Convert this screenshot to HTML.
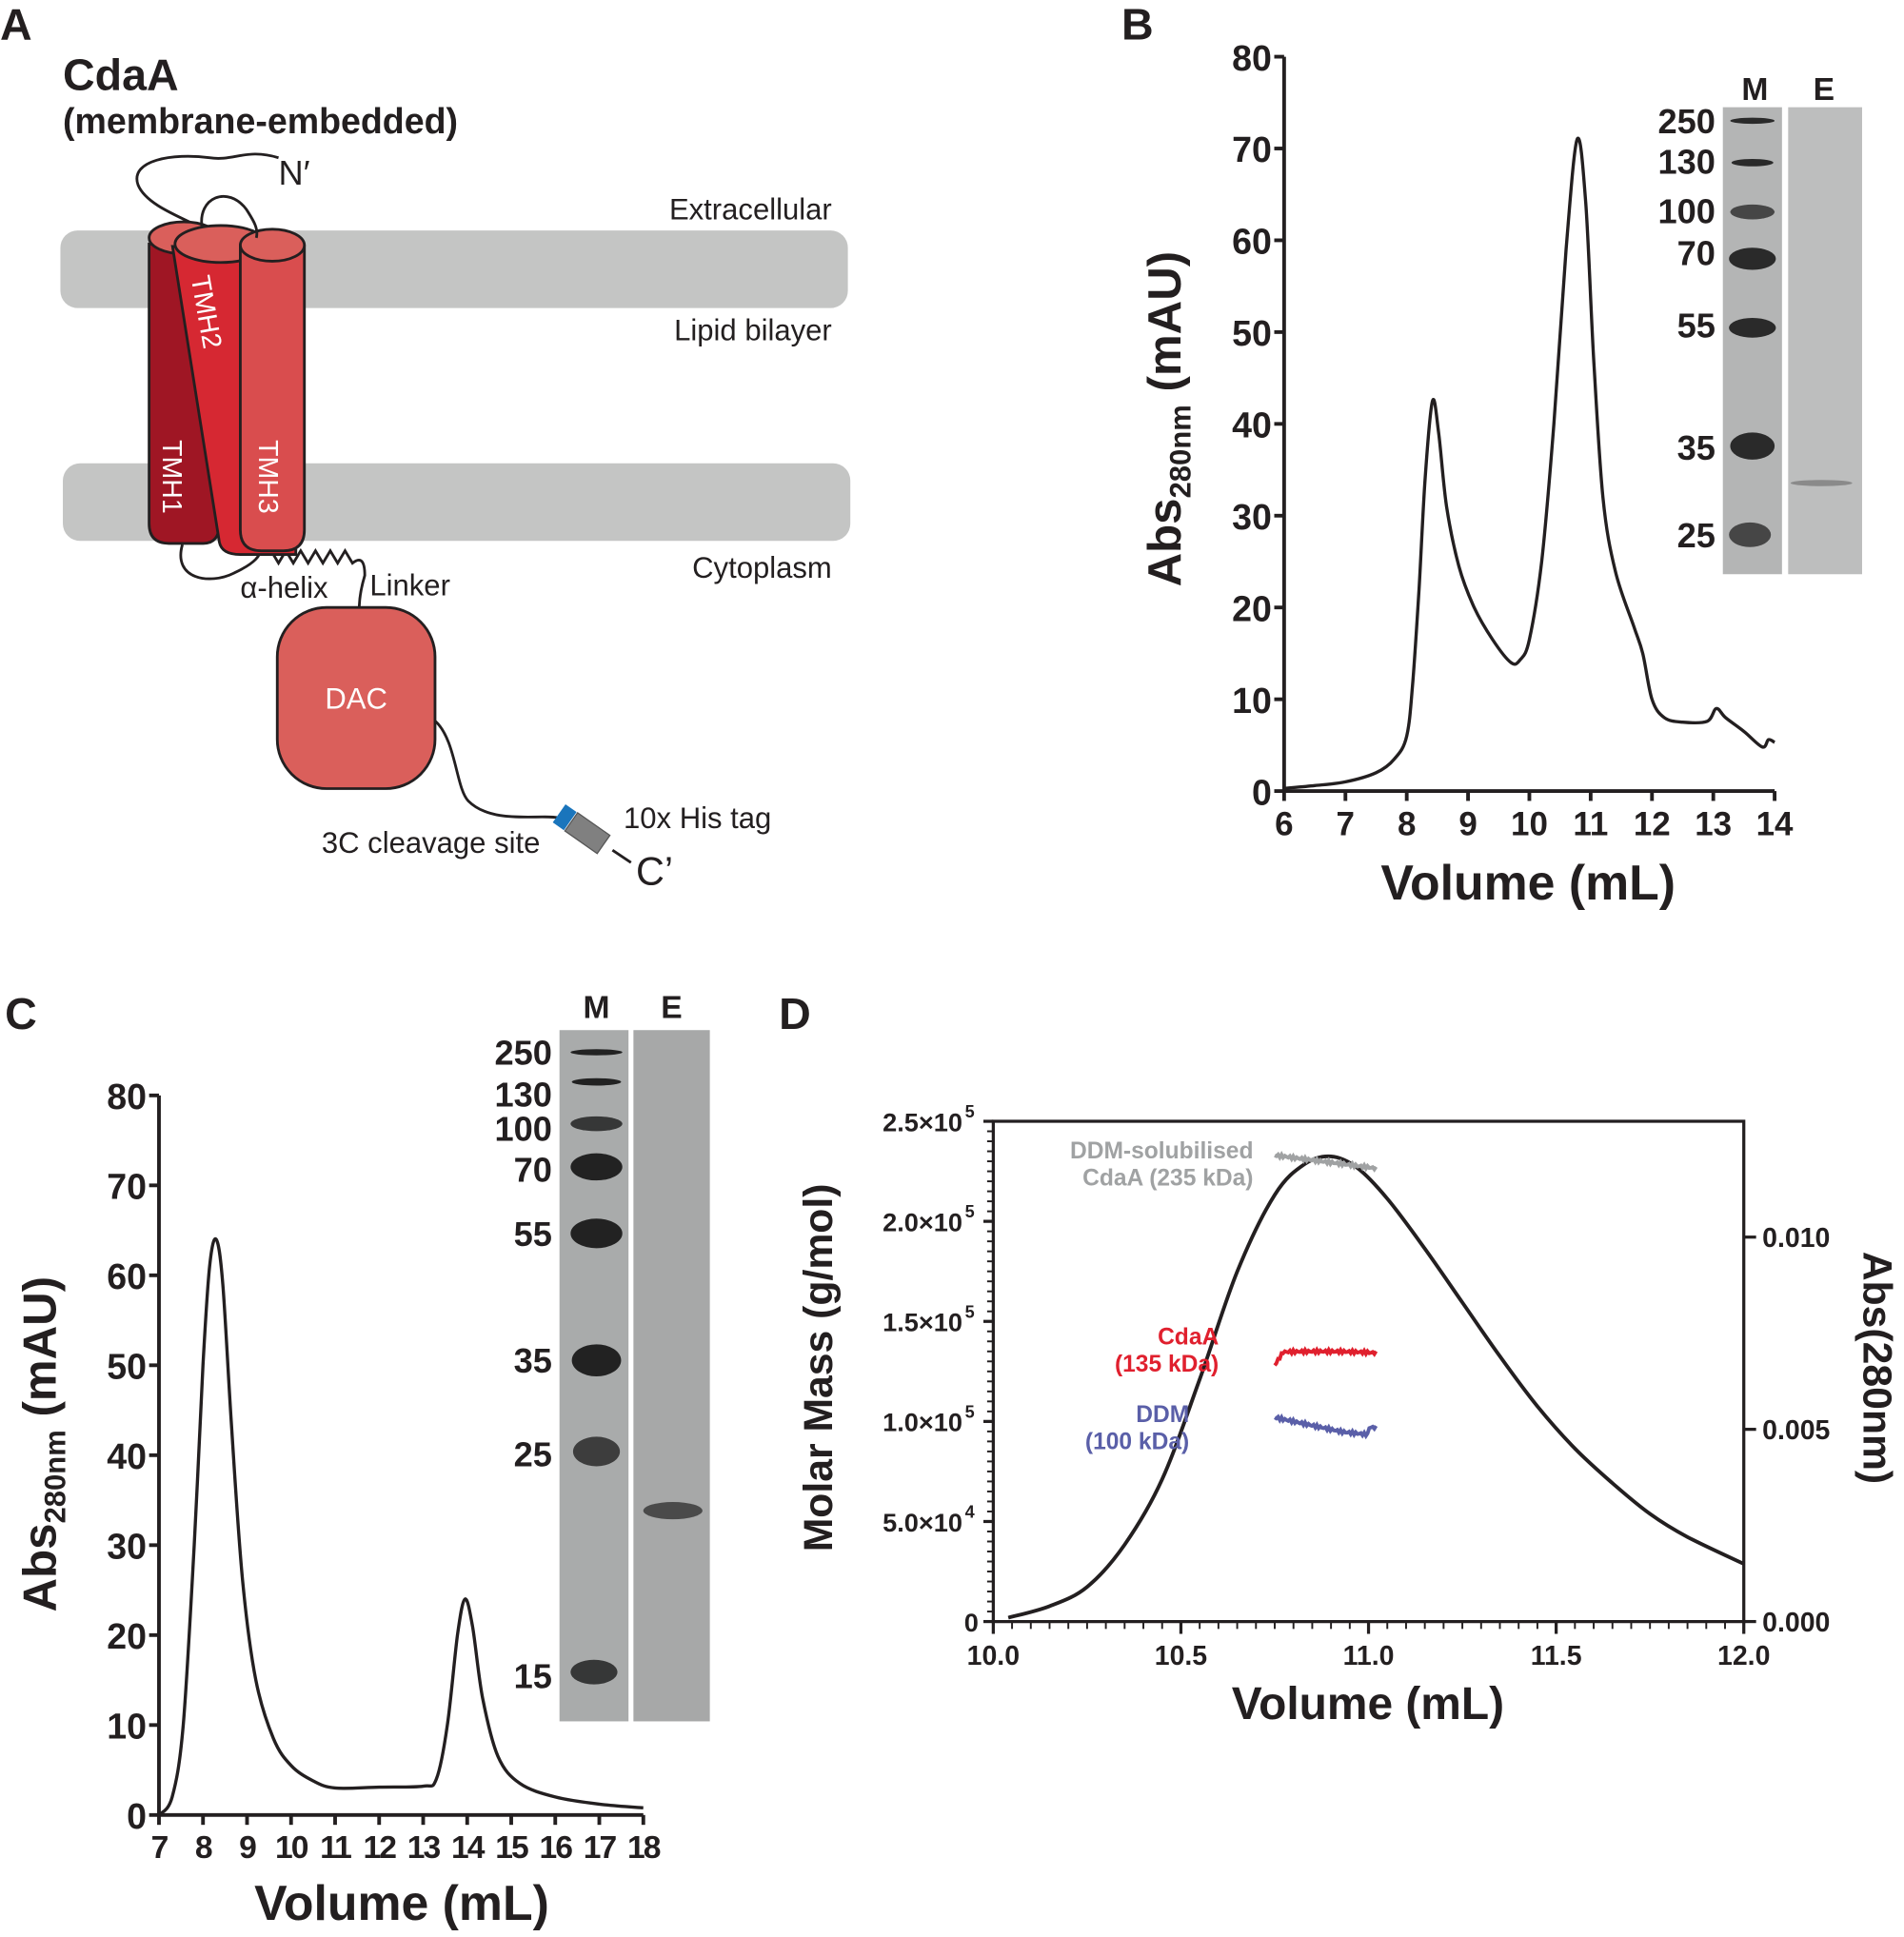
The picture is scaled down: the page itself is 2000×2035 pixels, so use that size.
<!DOCTYPE html>
<html><head><meta charset="utf-8">
<style>
html,body{margin:0;padding:0;background:#fff;}
svg{display:block;}
text{font-family:"Liberation Sans",Arial,sans-serif;}
.b{font-weight:bold;fill:#231f20;}
</style></head>
<body>
<svg id="s" width="2000" height="2035" viewBox="0 0 1545 1572" xmlns="http://www.w3.org/2000/svg">
<rect width="1545" height="1572" fill="#fff"/>
<text x="0" y="32" class="b" font-size="36">A</text>
<text x="910" y="32" class="b" font-size="36">B</text>
<text x="4" y="835" class="b" font-size="36">C</text>
<text x="632" y="835" class="b" font-size="36">D</text>

<!-- ===== Panel A ===== -->
<text x="51" y="73" class="b" font-size="36">CdaA</text>
<text x="51" y="108" class="b" font-size="29">(membrane-embedded)</text>
<rect x="49" y="187" width="639" height="63" rx="14" fill="#c4c5c4"/>
<rect x="51" y="376" width="639" height="63" rx="14" fill="#c4c5c4"/>
<g font-size="24" fill="#231f20">
<text x="675" y="178" text-anchor="end">Extracellular</text>
<text x="675" y="276" text-anchor="end">Lipid bilayer</text>
<text x="675" y="469" text-anchor="end">Cytoplasm</text>
<text x="195" y="485">α-helix</text>
<text x="300" y="483">Linker</text>
<text x="261" y="692">3C cleavage site</text>
<text x="506" y="672">10x His tag</text>
<text x="226" y="150" font-size="28">N′</text>
<text x="516" y="718" font-size="32">C’</text>
</g>
<g fill="none" stroke="#231f20" stroke-width="2.2">
<path d="M178,193 C160,180 120,170 112,150 C105,130 140,124 170,128 C190,131 200,120 226,128"/>
<path d="M148,442 C140,470 170,475 190,465 C205,458 215,450 210,442"/>
<path d="M220,447 l6,10 l6,-10 l6,10 l6,-10 l6,10 l6,-10 l6,10 l6,-10 l6,10 l6,-10 l6,10 q10,-8 10,10 q-6,20 -4,35"/>
<path d="M353,585 C370,600 370,640 380,650 C400,670 440,660 455,664"/>
</g>
<path d="M121,198 L121,425 Q121,441 137,441 L165,441 Q178,441 178,425 L160,200 Z" fill="#9f1624" stroke="#231f20" stroke-width="2.2"/>
<ellipse cx="149" cy="193" rx="28" ry="13" fill="#da5f5b" stroke="#231f20" stroke-width="2.2"/>
<path d="M140,200 L178,440 Q180,450 195,450 L240,450 L245,205 Z" fill="#d62832" stroke="#231f20" stroke-width="2.2"/>
<ellipse cx="179" cy="198" rx="37" ry="15" fill="#da5f5b" stroke="#231f20" stroke-width="2.2"/>
<path d="M195,200 L195,430 Q195,447 212,447 L230,447 Q247,447 247,430 L247,200 Z" fill="#d94d4e" stroke="#231f20" stroke-width="2.2"/>
<ellipse cx="221" cy="199" rx="26" ry="13" fill="#da5f5b" stroke="#231f20" stroke-width="2.2"/>
<path d="M164,185 C160,160 185,150 200,170 C205,178 210,185 208,193" fill="none" stroke="#231f20" stroke-width="2.2"/>
<g fill="#fff" font-size="22">
<text transform="translate(155,225) rotate(80)">TMH2</text>
<text transform="translate(132,357) rotate(90)">TMH1</text>
<text transform="translate(210,357) rotate(90)">TMH3</text>
</g>
<rect x="225" y="493" width="128" height="147" rx="40" fill="#da5f5b" stroke="#231f20" stroke-width="2.2"/>
<text x="289" y="575" fill="#fff" font-size="24" text-anchor="middle">DAC</text>
<g transform="translate(475,675) rotate(35)">
<rect x="-14" y="-9" width="32" height="18" fill="#808080" stroke="#555" stroke-width="1"/>
<rect x="-26" y="-9" width="11" height="18" fill="#1a75bc"/>
</g>
<line x1="497" y1="690" x2="512" y2="700" stroke="#231f20" stroke-width="2.2"/>

<!-- ===== Panel B ===== -->
<g id="axB"></g>
<rect x="1398" y="87" width="48" height="379" fill="#b4b5b5"/>
<rect x="1451" y="87" width="60" height="379" fill="#bdbebe"/>
<g fill="#2a2a2a">
<ellipse cx="1422" cy="98" rx="18" ry="2.5"/>
<ellipse cx="1422" cy="132" rx="17" ry="3"/>
<ellipse cx="1422" cy="172" rx="18" ry="6" opacity="0.8"/>
<ellipse cx="1422" cy="210" rx="19" ry="9"/>
<ellipse cx="1422" cy="266" rx="19" ry="8"/>
<ellipse cx="1422" cy="362" rx="18" ry="11"/>
<ellipse cx="1420" cy="434" rx="17" ry="10" opacity="0.8"/>
<ellipse cx="1478" cy="392" rx="25" ry="2.5" opacity="0.35"/>
</g>
<g class="b" font-size="28" text-anchor="end">
<text x="1392" y="108">250</text><text x="1392" y="141">130</text><text x="1392" y="181">100</text>
<text x="1392" y="215">70</text><text x="1392" y="274">55</text><text x="1392" y="373">35</text><text x="1392" y="444">25</text>
</g>
<text x="1424" y="81" class="b" font-size="26" text-anchor="middle">M</text>
<text x="1480" y="81" class="b" font-size="26" text-anchor="middle">E</text>

<!-- ===== Panel C ===== -->
<g id="axC"></g>
<rect x="454" y="836" width="56" height="561" fill="#a9abab"/>
<rect x="514" y="836" width="62" height="561" fill="#a7a8a8"/>
<g fill="#222">
<ellipse cx="484" cy="854" rx="21" ry="2.5"/>
<ellipse cx="484" cy="878" rx="20" ry="3"/>
<ellipse cx="484" cy="912" rx="21" ry="6" opacity="0.85"/>
<ellipse cx="484" cy="947" rx="21" ry="11"/>
<ellipse cx="484" cy="1001" rx="21" ry="12"/>
<ellipse cx="484" cy="1104" rx="20" ry="13"/>
<ellipse cx="484" cy="1178" rx="19" ry="12" opacity="0.8"/>
<ellipse cx="482" cy="1357" rx="19" ry="10" opacity="0.85"/>
<ellipse cx="546" cy="1226" rx="24" ry="7" opacity="0.7"/>
</g>
<g class="b" font-size="28" text-anchor="end">
<text x="448" y="864">250</text><text x="448" y="898">130</text><text x="448" y="926">100</text>
<text x="448" y="959">70</text><text x="448" y="1011">55</text><text x="448" y="1114">35</text><text x="448" y="1190">25</text><text x="448" y="1370">15</text>
</g>
<text x="484" y="826" class="b" font-size="26" text-anchor="middle">M</text>
<text x="545" y="826" class="b" font-size="26" text-anchor="middle">E</text>

<!-- ===== Panel D ===== -->
<g id="axD"></g>
<text x="1017" y="940" font-size="19" font-weight="bold" fill="#a0a2a3" text-anchor="end">DDM-solubilised</text>
<text x="1017" y="962" font-size="19" font-weight="bold" fill="#a0a2a3" text-anchor="end">CdaA (235 kDa)</text>
<text x="989" y="1091" font-size="19" font-weight="bold" fill="#e0202e" text-anchor="end">CdaA</text>
<text x="989" y="1113" font-size="19" font-weight="bold" fill="#e0202e" text-anchor="end">(135 kDa)</text>
<text x="965" y="1154" font-size="19" font-weight="bold" fill="#5a5fa8" text-anchor="end">DDM</text>
<text x="965" y="1176" font-size="19" font-weight="bold" fill="#5a5fa8" text-anchor="end">(100 kDa)</text>
</svg>
<script>
const NS="http://www.w3.org/2000/svg";
function el(p,tag,a,txt){const e=document.createElementNS(NS,tag);for(const k in a)e.setAttribute(k,a[k]);if(txt!==undefined)e.textContent=txt;p.appendChild(e);return e;}
function smooth(pts){let d="M"+pts[0][0].toFixed(1)+","+pts[0][1].toFixed(1);
 for(let i=0;i<pts.length-1;i++){const p0=pts[Math.max(0,i-1)],p1=pts[i],p2=pts[i+1],p3=pts[Math.min(pts.length-1,i+2)];
 const c1=[p1[0]+(p2[0]-p0[0])/6,p1[1]+(p2[1]-p0[1])/6],c2=[p2[0]-(p3[0]-p1[0])/6,p2[1]-(p3[1]-p1[1])/6];
 d+=" C"+c1.map(v=>v.toFixed(1))+" "+c2.map(v=>v.toFixed(1))+" "+p2.map(v=>v.toFixed(1));}return d;}
(function(){const g=document.getElementById("axB");const X=v=>1042+(v-6)*49.75,Y=v=>642-v*7.45;
el(g,"path",{d:"M1042,46 V642 H1440",fill:"none",stroke:"#231f20","stroke-width":3});
for(let v=0;v<=80;v+=10){el(g,"line",{x1:1034,x2:1042,y1:Y(v),y2:Y(v),stroke:"#231f20","stroke-width":3});
el(g,"text",{x:1032,y:Y(v)+11,"text-anchor":"end",class:"b","font-size":29},v);}
for(let v=6;v<=14;v++){el(g,"line",{x1:X(v),x2:X(v),y1:642,y2:650,stroke:"#231f20","stroke-width":3});
el(g,"text",{x:X(v),y:678,"text-anchor":"middle",class:"b","font-size":27},v);}
el(g,"text",{x:1240,y:730,"text-anchor":"middle",class:"b","font-size":40},"Volume (mL)");
const t=el(g,"text",{transform:"translate(958,340) rotate(-90)","text-anchor":"middle",class:"b","font-size":38});
t.innerHTML='Abs<tspan font-size="24" dy="8">280nm</tspan><tspan dy="-8"> (mAU)</tspan>';
const d=[[6,0.3],[6.5,0.6],[7,1],[7.5,2],[7.8,3.5],[8,6],[8.1,12],[8.2,22],[8.3,34],[8.42,42.5],[8.52,39],[8.65,31],[8.85,24.5],[9.1,20],[9.4,16.5],[9.7,14],[9.85,14.3],[10,16.5],[10.2,25],[10.4,40],[10.6,59],[10.78,71],[10.92,64],[11.05,47],[11.2,32],[11.4,24],[11.7,18],[11.85,15],[12,10],[12.2,8],[12.5,7.5],[12.9,7.6],[13.05,9],[13.2,8],[13.5,6.5],[13.8,4.8],[13.9,5.6],[14,5.3]];
el(g,"path",{d:smooth(d.map(p=>[X(p[0]),Y(p[1])])),fill:"none",stroke:"#231f20","stroke-width":2.6});})();
(function(){const g=document.getElementById("axC");const X=v=>129+(v-7)*35.73,Y=v=>1473-v*7.3;
el(g,"path",{d:"M129,889 V1473 H522",fill:"none",stroke:"#231f20","stroke-width":3});
for(let v=0;v<=80;v+=10){el(g,"line",{x1:121,x2:129,y1:Y(v),y2:Y(v),stroke:"#231f20","stroke-width":3});
el(g,"text",{x:119,y:Y(v)+11,"text-anchor":"end",class:"b","font-size":29},v);}
for(let v=7;v<=18;v++){el(g,"line",{x1:X(v),x2:X(v),y1:1473,y2:1481,stroke:"#231f20","stroke-width":3});
el(g,"text",{x:X(v),y:1508,"text-anchor":"middle",class:"b","font-size":26,"letter-spacing":-1.5},v);}
el(g,"text",{x:326,y:1558,"text-anchor":"middle",class:"b","font-size":40},"Volume (mL)");
const t=el(g,"text",{transform:"translate(45,1172) rotate(-90)","text-anchor":"middle",class:"b","font-size":38});
t.innerHTML='Abs<tspan font-size="24" dy="8">280nm</tspan><tspan dy="-8"> (mAU)</tspan>';
const d=[[7,0],[7.3,2],[7.55,10],[7.8,30],[8.0,50],[8.15,61],[8.3,64],[8.45,59],[8.65,43],[8.9,26],[9.2,15],[9.6,8.5],[10,5.5],[10.5,3.8],[11,3],[12,3.1],[13,3.2],[13.3,4],[13.55,10],[13.78,20],[13.95,24],[14.12,21],[14.35,13],[14.7,6.5],[15.2,3.5],[16,2],[17,1.2],[18,0.8]];
el(g,"path",{d:smooth(d.map(p=>[X(p[0]),Y(p[1])])),fill:"none",stroke:"#231f20","stroke-width":2.6});})();
(function(){const g=document.getElementById("axD");const X=v=>806+(v-10)*304.5,Y=v=>1316-v*1.624e-3,YR=v=>1316-v*31200;
el(g,"path",{d:"M806,1316 V910 H1415 V1316 Z",fill:"none",stroke:"#231f20","stroke-width":2.5});
for(let i=0;i<=50;i++){const v=i*5000;const maj=i%10==0;el(g,"line",{x1:maj?798:801,x2:806,y1:Y(v),y2:Y(v),stroke:"#231f20","stroke-width":maj?2.5:1.5});}
const labs=["0","5.0×10","1.0×10","1.5×10","2.0×10","2.5×10"];
labs.forEach((l,i)=>{const t=el(g,"text",{x:i?781:794,y:Y(i*50000)+8,"text-anchor":"end",class:"b","font-size":21});
t.textContent=l;if(i){el(g,"text",{x:783,y:Y(i*50000)-3,class:"b","font-size":14},i==1?"4":"5");}});
for(let i=0;i<=40;i++){const v=10+i*0.05;const maj=i%10==0;el(g,"line",{x1:X(v),x2:X(v),y1:1316,y2:maj?1326:1322,stroke:"#231f20","stroke-width":maj?2.5:1.5});}
for(let v=0;v<=4;v++){el(g,"text",{x:X(10+v*0.5),y:1351,"text-anchor":"middle",class:"b","font-size":22},(10+v*0.5).toFixed(1));}
[[0,"0.000"],[0.005,"0.005"],[0.010,"0.010"]].forEach(p=>{el(g,"line",{x1:1415,x2:1425,y1:YR(p[0]),y2:YR(p[0]),stroke:"#231f20","stroke-width":2.5});
el(g,"text",{x:1430,y:YR(p[0])+8,class:"b","font-size":22},p[1]);});
el(g,"text",{x:1110,y:1395,"text-anchor":"middle",class:"b","font-size":37},"Volume (mL)");
el(g,"text",{transform:"translate(675,1110) rotate(-90)","text-anchor":"middle",class:"b","font-size":33},"Molar Mass (g/mol)");
el(g,"text",{transform:"translate(1512,1110) rotate(90)","text-anchor":"middle",class:"b","font-size":33},"Abs(280nm)");
const d=[[10.04,0.0001],[10.15,0.0004],[10.25,0.0009],[10.35,0.002],[10.45,0.0037],[10.55,0.0063],[10.65,0.0091],[10.75,0.0111],[10.83,0.0119],[10.9,0.0121],[10.97,0.0118],[11.05,0.011],[11.15,0.0097],[11.25,0.0083],[11.35,0.0069],[11.45,0.0056],[11.55,0.0045],[11.65,0.0036],[11.75,0.0028],[11.85,0.0022],[12,0.0015]];
el(g,"path",{d:smooth(d.map(p=>[X(p[0]),YR(p[1])])),fill:"none",stroke:"#231f20","stroke-width":3});
function noisy(a,b,f,col){let pts=[];for(let i=0;i<=60;i++){const v=a+(b-a)*i/60;pts.push([X(v),Y(f(v))+Math.sin(i*2.7)*1.3]);}
el(g,"polyline",{points:pts.map(p=>p.map(x=>x.toFixed(1)).join(",")).join(" "),fill:"none",stroke:col,"stroke-width":3});}
noisy(10.75,11.02,v=>233000-(v-10.75)*24000,"#a0a2a3");
noisy(10.75,11.02,v=>v<10.77?128000+(v-10.75)*300000:135000-Math.pow((v-10.87)*28,2)*40,"#e0202e");
noisy(10.75,11.02,v=>v>11.0?97000:102000-(v-10.75)*40000+Math.max(0,(v-10.93))*20000,"#5a5fa8");
})();
</script>
</body></html>
